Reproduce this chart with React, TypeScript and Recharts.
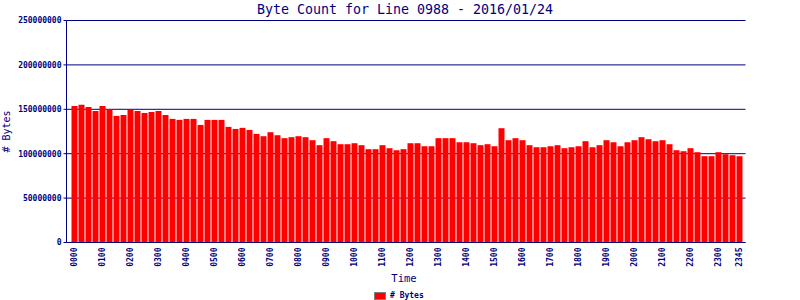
import { BarChart, Bar, XAxis, YAxis, CartesianGrid, Legend, Customized } from "recharts"

// 15 minute slots for the day
const times = [
    "0000", "0015", "0030", "0045", "0100", "0115", "0130", "0145",
    "0200", "0215", "0230", "0245", "0300", "0315", "0330", "0345",
    "0400", "0415", "0430", "0445", "0500", "0515", "0530", "0545",
    "0600", "0615", "0630", "0645", "0700", "0715", "0730", "0745",
    "0800", "0815", "0830", "0845", "0900", "0915", "0930", "0945",
    "1000", "1015", "1030", "1045", "1100", "1115", "1130", "1145",
    "1200", "1215", "1230", "1245", "1300", "1315", "1330", "1345",
    "1400", "1415", "1430", "1445", "1500", "1515", "1530", "1545",
    "1600", "1615", "1630", "1645", "1700", "1715", "1730", "1745",
    "1800", "1815", "1830", "1845", "1900", "1915", "1930", "1945",
    "2000", "2015", "2030", "2045", "2100", "2115", "2130", "2145",
    "2200", "2215", "2230", "2245", "2300", "2315", "2330", "2345",
]

const bytes = [
    153800000, 155000000, 152700000, 148200000, 153800000, 150100000, 142600000, 143700000,
    149300000, 148200000, 145900000, 147100000, 148200000, 143700000, 139200000, 138100000,
    139200000, 139200000, 132400000, 138100000, 138100000, 138100000, 130200000, 127900000,
    129100000, 126800000, 122300000, 119700000, 124200000, 120800000, 117500000, 118600000,
    119700000, 118600000, 115200000, 109600000, 117500000, 114100000, 110700000, 110700000,
    111800000, 109600000, 105100000, 105100000, 109600000, 106200000, 103900000, 105100000,
    111800000, 111800000, 108400000, 108400000, 117500000, 117500000, 117500000, 112900000,
    112900000, 111800000, 109600000, 110700000, 108400000, 128700000, 115200000, 117500000,
    115200000, 109600000, 107300000, 107300000, 108400000, 109600000, 106200000, 107300000,
    108400000, 114100000, 107300000, 109600000, 115200000, 112900000, 108400000, 112900000,
    115200000, 118600000, 116300000, 114100000, 115200000, 110700000, 103900000, 102800000,
    106200000, 101700000, 97200000, 97200000, 101700000, 99400000, 98300000, 97200000,
]

const xTicks = [
    "0000", "0100", "0200", "0300", "0400", "0500", "0600", "0700",
    "0800", "0900", "1000", "1100", "1200", "1300", "1400", "1500",
    "1600", "1700", "1800", "1900", "2000", "2100", "2200", "2300", "2345",
]

const yTicks = [0, 50000000, 100000000, 150000000, 200000000, 250000000]

const data = times.map((t, i) => ({ time: t, bytes: bytes[i] }))

const NAVY = "#000080"
const MONO = "'DejaVu Sans Mono', monospace"

function TimeTick({ x, y, payload }: any) {
    const tx = x + 3
    const ty = y + 5
    return (
        <text
            x={tx}
            y={ty}
            transform={`rotate(-90 ${tx} ${ty})`}
            textAnchor="end"
            fontSize={8}
            fontWeight="bold"
            fontFamily={MONO}
            fill={NAVY}
        >
            {payload.value}
        </text>
    )
}

function Title() {
    return (
        <text x={405} y={13.5} textAnchor="middle" fontSize={13.3} fontFamily={MONO} fill={NAVY}>
            Byte Count for Line 0988 - 2016/01/24
        </text>
    )
}

function LegendContent() {
    return (
        <div style={{ display: "flex", alignItems: "center", fontFamily: MONO, fontSize: 8, fontWeight: "bold", color: NAVY, lineHeight: "9px" }}>
            <span style={{ display: "inline-block", width: 10, height: 6, background: "#ff0000", border: "1px solid #808080", marginRight: 4 }} />
            # Bytes
        </div>
    )
}

export default function App() {
    return (
        <div style={{ position: "absolute", left: 0, top: 0, width: 800, height: 300, background: "#fff" }}>
            <BarChart
                width={800}
                height={300}
                data={data}
                margin={{ top: 20.5, right: 54.5, left: 0, bottom: 0 }}
            >
                <CartesianGrid vertical={false} stroke={NAVY} strokeWidth={1} />
                <XAxis
                    dataKey="time"
                    ticks={xTicks}
                    interval={0}
                    height={57.5}
                    padding={{ left: 4, right: 3 }}
                    tickLine={false}
                    tickSize={0}
                    tickMargin={0}
                    axisLine={{ stroke: NAVY }}
                    tick={<TimeTick />}
                    label={({ viewBox }: any) => (
                        <text
                            x={viewBox.x + viewBox.width / 2 - 2}
                            y={viewBox.y + 39.5}
                            textAnchor="middle"
                            fontSize={10.5}
                            fontFamily={MONO}
                            fill={NAVY}
                        >
                            Time
                        </text>
                    )}
                />
                <YAxis
                    width={66.5}
                    domain={[0, 250000000]}
                    ticks={yTicks}
                    interval={0}
                    tickSize={3}
                    tickMargin={2}
                    tickLine={{ stroke: NAVY }}
                    axisLine={{ stroke: NAVY }}
                    tick={{ fill: NAVY, fontSize: 8, fontWeight: "bold", fontFamily: MONO }}
                    label={({ viewBox }: any) => {
                        const cy = viewBox.y + viewBox.height / 2
                        return (
                            <text
                                x={10}
                                y={cy}
                                transform={`rotate(-90 10 ${cy})`}
                                textAnchor="middle"
                                fontSize={10}
                                fontFamily={MONO}
                                fill={NAVY}
                            >
                                # Bytes
                            </text>
                        )
                    }}
                />
                <YAxis
                    yAxisId="right"
                    orientation="right"
                    width={0}
                    domain={[0, 250000000]}
                    tick={false}
                    tickLine={false}
                    axisLine={{ stroke: NAVY }}
                />
                <Legend
                    layout="vertical"
                    align="center"
                    verticalAlign="middle"
                    content={<LegendContent />}
                    wrapperStyle={{ left: 374, top: 291, width: 60, height: 9 }}
                />
                <Bar dataKey="bytes" name="# Bytes" fill="#ff0000" barSize={6} isAnimationActive={false} />
                <Customized component={<Title />} />
            </BarChart>
        </div>
    )
}
